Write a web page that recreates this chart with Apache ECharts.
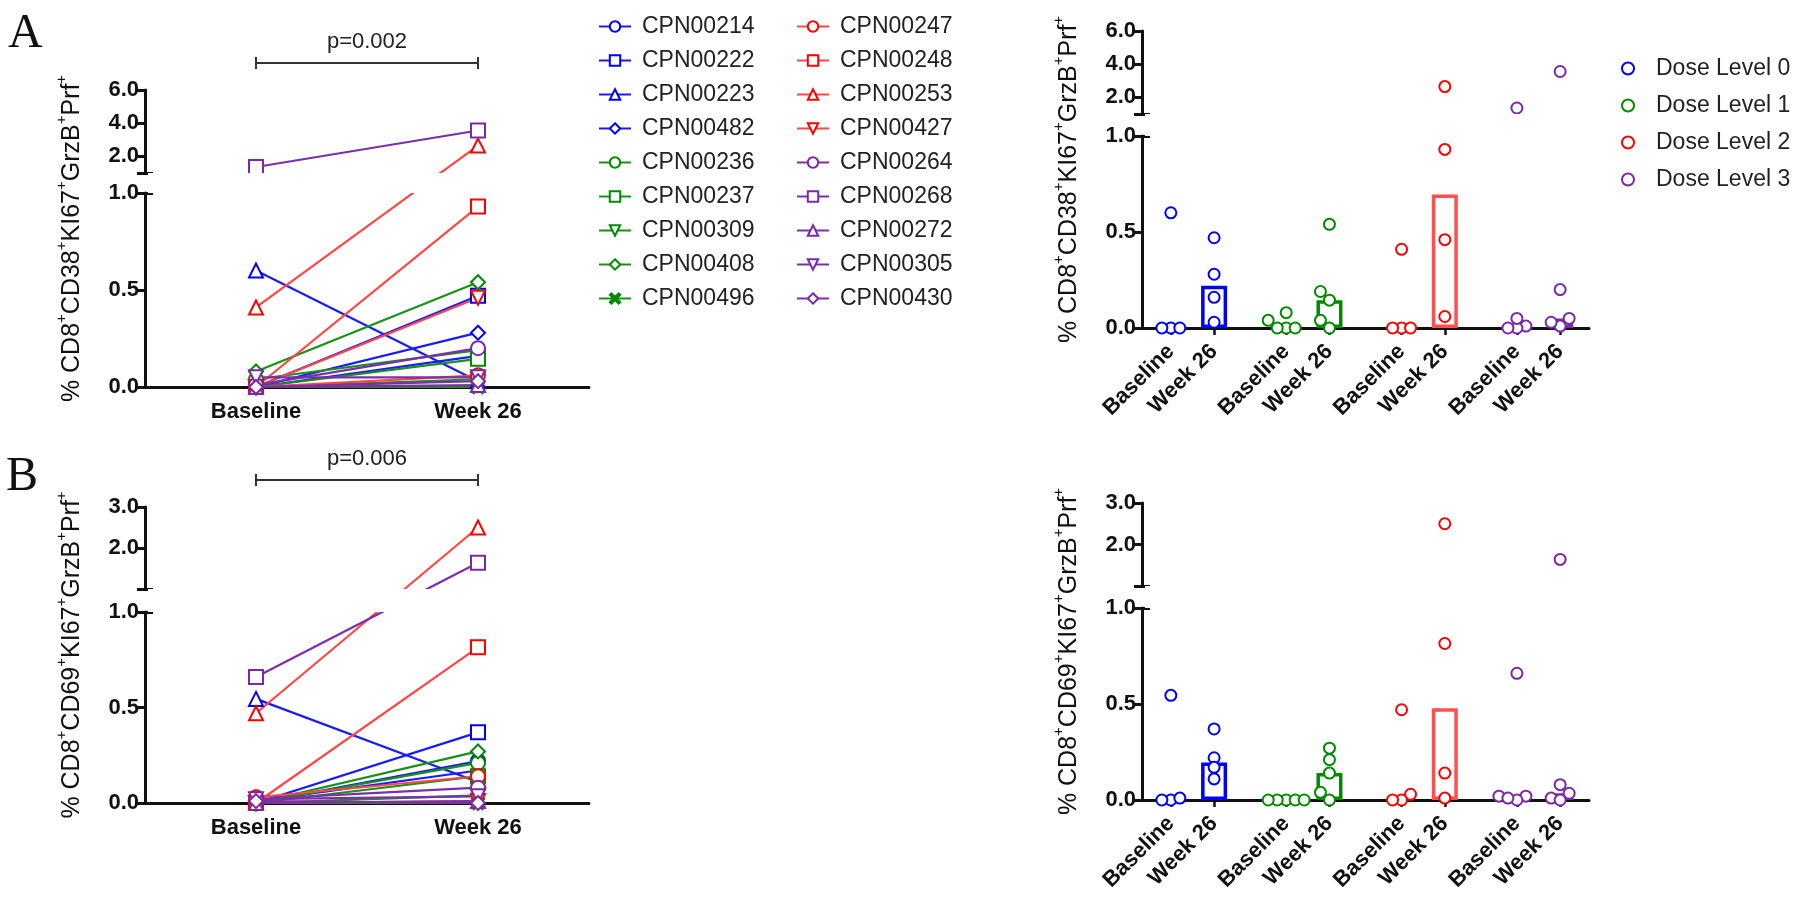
<!DOCTYPE html>
<html>
<head>
<meta charset="utf-8">
<script src="https://cdn.jsdelivr.net/npm/echarts@6/dist/echarts.min.js"></script>
<style>
  html, body { margin: 0; padding: 0; background: #fff; }
  #chart { width: 1800px; height: 898px; }
</style>
</head>
<body>
<div id="chart"></div>
<script>
// patients, in legend order (left column then right column)
const patients = [
  'CPN00214', 'CPN00222', 'CPN00223', 'CPN00482', 'CPN00236', 'CPN00237', 'CPN00309', 'CPN00408', 'CPN00496',
  'CPN00247', 'CPN00248', 'CPN00253', 'CPN00427', 'CPN00264', 'CPN00268', 'CPN00272', 'CPN00305', 'CPN00430'
]
const doseLevel = [0, 0, 0, 0, 1, 1, 1, 1, 1, 2, 2, 2, 2, 3, 3, 3, 3, 3]
const markers = [
  'circle', 'rect', 'triangle', 'diamond', 'circle', 'rect', 'down', 'diamond', 'cross',
  'circle', 'rect', 'triangle', 'down', 'circle', 'rect', 'triangle', 'down', 'diamond'
]

// % CD8+CD38+KI67+GrzB+Prf+
const cd38Baseline = [0, 0, 0.60, 0, 0.04, 0, 0, 0.08, 0, 0, 0, 0.41, 0, 0.01, 1.36, 0, 0.05, 0]
const cd38Week26 = [0.16, 0.47, 0.03, 0.28, 0.19, 0.145, 0.04, 0.54, 0, 0.06, 0.93, 2.65, 0.46, 0.20, 3.56, 0.01, 0.05, 0.03]
// % CD8+CD69+KI67+GrzB+Prf+
const cd69Baseline = [0, 0, 0.545, 0.01, 0, 0, 0, 0, 0, 0.03, 0, 0.47, 0, 0.02, 0.66, 0, 0.02, 0.01]
const cd69Week26 = [0.22, 0.37, 0.11, 0.17, 0.21, 0.14, 0.04, 0.27, 0, 0.14, 0.815, 2.5, 0.01, 0.08, 1.64, 0.01, 0.035, 0]

const timepoints = ['Baseline', 'Week 26']
const doseNames = ['Dose Level 0', 'Dose Level 1', 'Dose Level 2', 'Dose Level 3']
const doseColors = ['#0000ff', '#008a00', '#ff0000', '#7a2aa6']
const lineColors = ['#1a1aff', '#1a8f1a', '#ff4545', '#7d2fa8']
const barColors = ['#0000ff', '#008a00', '#ff5050', '#7a2aa6']

const FONT = 'Liberation Sans, Arial, sans-serif'
const INK = '#111'

// broken y axis: lower piece 0..1, upper piece 1..upperMax, gap between
const panels = [
  { left: 145, right: 589, bottom: 387, lowerPx: 194, gapPx: 20, upperPx: 83, upperMax: 6, upperTicks: [2, 4, 6],
    base: cd38Baseline, wk: cd38Week26, marker: 'CD38', p: 'p=0.002', kind: 'pairs' },
  { left: 1142, right: 1589, bottom: 328, lowerPx: 192, gapPx: 22, upperPx: 83, upperMax: 6, upperTicks: [2, 4, 6],
    base: cd38Baseline, wk: cd38Week26, marker: 'CD38', kind: 'dose' },
  { left: 145, right: 589, bottom: 803, lowerPx: 191, gapPx: 23, upperPx: 82, upperMax: 3, upperTicks: [2, 3],
    base: cd69Baseline, wk: cd69Week26, marker: 'CD69', p: 'p=0.006', kind: 'pairs' },
  { left: 1142, right: 1589, bottom: 800, lowerPx: 192, gapPx: 22, upperPx: 83, upperMax: 3, upperTicks: [2, 3],
    base: cd69Baseline, wk: cd69Week26, marker: 'CD69', kind: 'dose' }
]

function mapY(p, v) {
  if (v <= 1) return v
  return 1 + p.gapPx / p.lowerPx + (v - 1) / (p.upperMax - 1) * p.upperPx / p.lowerPx
}

function median(arr) {
  const s = arr.slice().sort((a, b) => a - b)
  const m = Math.floor(s.length / 2)
  return s.length % 2 ? s[m] : (s[m - 1] + s[m]) / 2
}

// x positions on the dose plots: pairs inside a group, wider gap between groups
const doseX = []
const doseXLabel = []
doseNames.forEach((d, g) => {
  doseX.push(1 + g * 4, 2.5 + g * 4)
  doseXLabel.push('Baseline', 'Week 26')
})

// simple beeswarm: spread points that would overlap sideways
function swarm(vals, toPx, step) {
  const order = vals.map((v, i) => i).sort((a, b) => vals[a] - vals[b])
  const placed = []
  const off = []
  order.forEach(i => {
    const y = toPx(vals[i])
    for (let k = 0; k < 20; k++) {
      const dx = k === 0 ? 0 : (k % 2 ? -1 : 1) * Math.ceil(k / 2) * step
      if (placed.every(q => Math.hypot(q.x - dx, q.y - y) >= step)) {
        placed.push({ x: dx, y })
        off[i] = dx
        break
      }
    }
  })
  return off
}

function symbolOf(m) {
  if (m === 'cross') return 'path://M0,1.5L1.5,0L5,3.5L8.5,0L10,1.5L6.5,5L10,8.5L8.5,10L5,6.5L1.5,10L0,8.5L3.5,5Z'
  if (m === 'down') return 'emptyTriangle'
  return 'empty' + m.charAt(0).toUpperCase() + m.slice(1)
}

function yTitle(marker) {
  return '{n|% CD8}{s|+}{n|' + marker + '}{s|+}{n|KI67}{s|+}{n|GrzB}{s|+}{n|Prf}{s|+}'
}

const axisLineStyle = { color: INK, width: 3 }
const tickLabel = { color: INK, fontFamily: FONT, fontSize: 22, fontWeight: 'bold', margin: 6, formatter: v => v.toFixed(1) }

const grid = []
const xAxis = []
const yAxis = []
const series = []

panels.forEach(p => {
  const top = p.bottom - p.lowerPx - p.gapPx - p.upperPx
  const width = p.right - p.left

  // main grid: data + x axis + title
  p.gi = grid.length
  grid.push({ left: p.left, top, width, height: p.bottom - top })
  p.xi = xAxis.length
  if (p.kind === 'pairs') {
    xAxis.push({
      gridIndex: p.gi, type: 'category', data: timepoints, boundaryGap: true,
      axisLine: { lineStyle: axisLineStyle }, axisTick: { show: false },
      axisLabel: { color: INK, fontFamily: FONT, fontSize: 22, fontWeight: 'bold', margin: 14 }
    })
  } else {
    xAxis.push({
      gridIndex: p.gi, type: 'value', min: 0, max: 15.5, splitLine: { show: false },
      axisLine: { onZero: false, lineStyle: axisLineStyle },
      axisTick: { show: true, customValues: doseX, length: 7, lineStyle: { color: INK, width: 2.5 } },
      axisLabel: {
        customValues: doseX, rotate: 45, margin: 20,
        color: INK, fontFamily: FONT, fontSize: 22, fontWeight: 'bold',
        formatter: v => doseXLabel[doseX.findIndex(x => Math.abs(x - v) < 1e-6)] || ''
      }
    })
  }
  p.yi = yAxis.length
  yAxis.push({
    gridIndex: p.gi, type: 'value', min: 0, max: mapY(p, p.upperMax),
    axisLine: { show: false }, axisTick: { show: false }, axisLabel: { show: false }, splitLine: { show: false },
    name: yTitle(p.marker), nameLocation: 'middle', nameRotate: 90, nameGap: 60,
    nameTextStyle: {
      color: INK, fontFamily: FONT,
      rich: {
        n: { fontSize: 25, fontFamily: FONT, color: INK, lineHeight: 31, verticalAlign: 'bottom' },
        s: { fontSize: 15, fontFamily: FONT, color: INK, lineHeight: 15, verticalAlign: 'top' }
      }
    }
  })

  // lower piece of the y axis
  const gl = grid.length
  grid.push({ left: p.left, top: p.bottom - p.lowerPx, width, height: p.lowerPx })
  xAxis.push({ gridIndex: gl, type: 'value', show: false, min: 0, max: 1 })
  yAxis.push({
    gridIndex: gl, type: 'value', min: 0, max: 1, interval: 0.5,
    axisLine: { show: true, lineStyle: axisLineStyle },
    axisTick: { show: true, length: 8, lineStyle: { color: INK, width: 3 } },
    axisLabel: tickLabel, splitLine: { show: false }
  })
  yAxis.push({
    gridIndex: gl, type: 'value', min: 0, max: 1, position: 'left',
    axisLine: { show: false }, axisLabel: { show: false }, splitLine: { show: false },
    axisTick: { show: true, inside: true, length: 8, customValues: [1], lineStyle: { color: INK, width: 3 } }
  })

  // upper piece of the y axis
  const gu = grid.length
  grid.push({ left: p.left, top, width, height: p.upperPx })
  xAxis.push({ gridIndex: gu, type: 'value', show: false, min: 0, max: 1 })
  yAxis.push({
    gridIndex: gu, type: 'value', min: 1, max: p.upperMax,
    axisLine: { show: true, lineStyle: axisLineStyle },
    axisTick: { show: true, length: 8, customValues: [1].concat(p.upperTicks), lineStyle: { color: INK, width: 3 } },
    axisLabel: Object.assign({}, tickLabel, { customValues: p.upperTicks }), splitLine: { show: false }
  })
  yAxis.push({
    gridIndex: gu, type: 'value', min: 1, max: p.upperMax, position: 'left',
    axisLine: { show: false }, axisLabel: { show: false }, splitLine: { show: false },
    axisTick: { show: true, inside: true, length: 8, customValues: [1], lineStyle: { color: INK, width: 3 } }
  })

  if (p.kind === 'pairs') {
    patients.forEach((name, i) => {
      const d = doseLevel[i]
      const m = markers[i]
      series.push({
        type: 'line', name, xAxisIndex: p.xi, yAxisIndex: p.yi,
        data: [mapY(p, p.base[i]), mapY(p, p.wk[i])],
        symbol: symbolOf(m), symbolSize: m === 'cross' ? 12 : 14, symbolRotate: m === 'down' ? 180 : 0,
        lineStyle: { color: lineColors[d], width: 2.2 },
        itemStyle: { color: doseColors[d], borderColor: doseColors[d], borderWidth: 2.5 },
        z: 2
      })
    })
  } else {
    const toPx = v => mapY(p, v) * p.lowerPx
    const bars = []
    doseNames.forEach((dn, g) => {
      const idx = patients.map((n, i) => i).filter(i => doseLevel[i] === g)
      const pts = []
      ;[p.base, p.wk].forEach((vals, t) => {
        const v = idx.map(i => vals[i])
        const off = swarm(v, toPx, 9)
        const x = doseX[g * 2 + t]
        v.forEach((val, k) => pts.push({ value: [x, mapY(p, val)], symbolOffset: [off[k], 0] }))
        bars.push({ value: [x, median(v)], itemStyle: { borderColor: barColors[g] } })
      })
      series.push({
        type: 'scatter', name: dn, xAxisIndex: p.xi, yAxisIndex: p.yi, data: pts,
        symbol: 'emptyCircle', symbolSize: 11,
        itemStyle: { color: doseColors[g], borderColor: doseColors[g], borderWidth: 3, opacity: 1 }, z: 3
      })
    })
    series.push({
      type: 'bar', xAxisIndex: p.xi, yAxisIndex: p.yi, data: bars, barWidth: 26,
      itemStyle: { color: 'rgba(0,0,0,0)', borderWidth: 3.5 }, z: 2, silent: true
    })
  }

  // white band hiding everything inside the axis break
  series.push({
    type: 'custom', xAxisIndex: p.xi, yAxisIndex: p.yi, data: [[0, 0]], z: 10, silent: true,
    renderItem: (params, api) => {
      const cs = params.coordSys
      const y0 = api.coord([0, 1])[1]
      const y1 = api.coord([0, 1 + p.gapPx / p.lowerPx])[1]
      return { type: 'rect', shape: { x: cs.x + 3, y: y1, width: cs.width, height: y0 - y1 }, style: { fill: '#fff' } }
    }
  })
})

const legendText = { color: '#222', fontFamily: FONT, fontSize: 23, padding: [0, 0, 0, 6] }

const option = {
  animation: false,
  backgroundColor: '#fff',
  title: [
    { text: 'A', left: 8, top: 10, padding: 0, textStyle: { fontFamily: 'Liberation Serif, serif', fontSize: 48, fontWeight: 'normal', color: INK } },
    { text: 'B', left: 6, top: 453, padding: 0, textStyle: { fontFamily: 'Liberation Serif, serif', fontSize: 48, fontWeight: 'normal', color: INK } }
  ],
  legend: [
    { data: patients.slice(0, 9), orient: 'vertical', left: 593, top: 10, itemWidth: 32, itemHeight: 13, itemGap: 11,
      textStyle: legendText, selectedMode: false },
    { data: patients.slice(9), orient: 'vertical', left: 791, top: 10, itemWidth: 32, itemHeight: 13, itemGap: 11,
      textStyle: legendText, selectedMode: false },
    { data: doseNames, orient: 'vertical', left: 1616, top: 52, itemWidth: 12, itemHeight: 12, itemGap: 14,
      textStyle: Object.assign({}, legendText, { padding: [0, 0, 0, 17] }), selectedMode: false }
  ],
  grid, xAxis, yAxis, series
}

const chart = echarts.init(document.getElementById('chart'))
chart.setOption(option)

// significance brackets above the paired plots
const graphic = []
panels.filter(p => p.p).forEach(p => {
  const xb = chart.convertToPixel({ xAxisIndex: p.xi }, 'Baseline')
  const xw = chart.convertToPixel({ xAxisIndex: p.xi }, 'Week 26')
  const top = p.bottom - p.lowerPx - p.gapPx - p.upperPx
  const y = top - 27
  const st = { stroke: '#333', lineWidth: 2 }
  graphic.push(
    { type: 'line', shape: { x1: xb, y1: y, x2: xw, y2: y }, style: st },
    { type: 'line', shape: { x1: xb, y1: y - 6, x2: xb, y2: y + 6 }, style: st },
    { type: 'line', shape: { x1: xw, y1: y - 6, x2: xw, y2: y + 6 }, style: st },
    { type: 'text', x: (xb + xw) / 2, y: y - 21,
      style: { text: p.p, fontSize: 22, fontFamily: FONT, fill: '#222', align: 'center', verticalAlign: 'middle' } }
  )
})
chart.setOption({ graphic })
</script>
</body>
</html>
